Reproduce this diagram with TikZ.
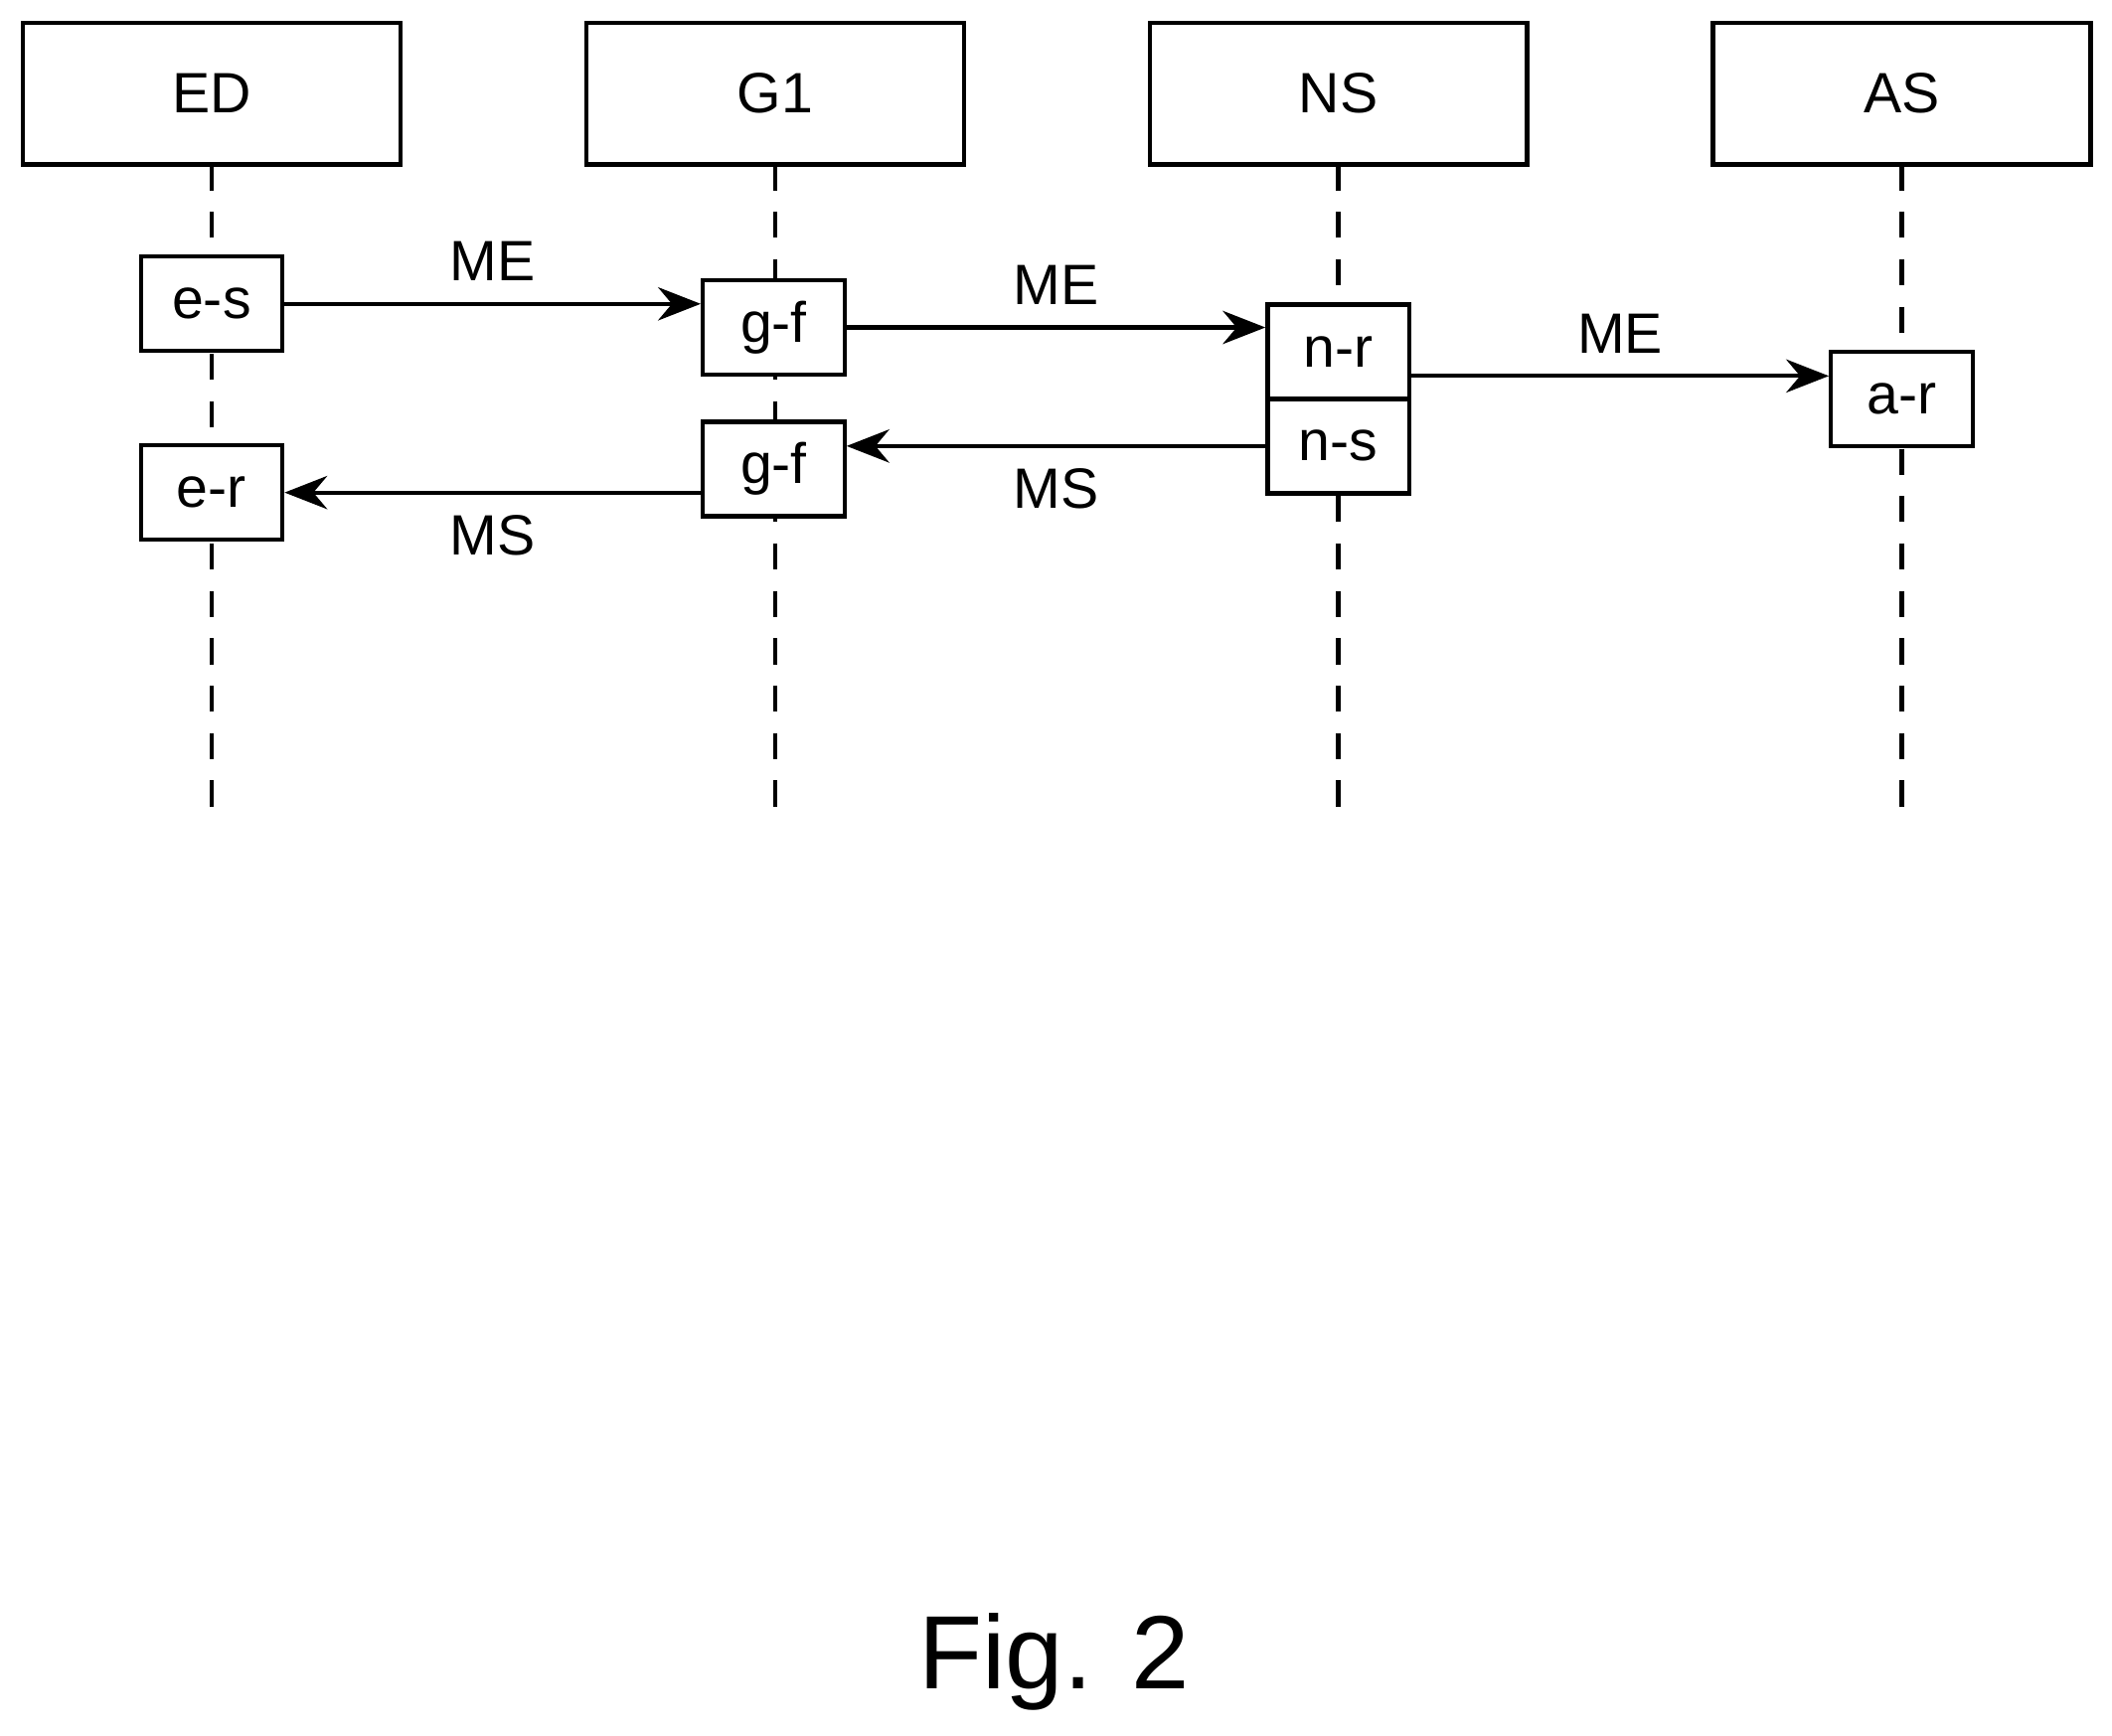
\documentclass[tikz,border=0pt]{standalone}
\usepackage{fontspec}
\setmainfont{Liberation Sans}
\usetikzlibrary{arrows.meta,positioning}
\begin{document}
\begin{tikzpicture}[x=0.01cm,y=-0.01cm,>={Stealth[length=9pt,width=7pt]},line width=0.9pt]
	\tikzset{party/.style={draw, rectangle, minimum width=2.8cm, minimum height=1.05cm, font=\fontsize{12}{14}\selectfont, fill=white}}
	\tikzset{stage/.style={draw, rectangle, minimum width=1.05cm, minimum height=0.7cm, font=\fontsize{12}{14}\selectfont, fill=white}}
	\tikzset{lifeline/.style={dash pattern=on 5.5pt off 4.5pt}}
	\useasboundingbox (0,0) rectangle (1567,1288);
	
	% lifelines
	\foreach \n/\x in {ed/157,g/575,ns/993,as/1411}{
		\coordinate (\n-end) at (\x,605);
		\draw [lifeline] (\x,122) -- (\n-end);
	}
	
	\node [party] (ED) at (157,69.5) {ED};
	\node [party] (G1) at (575,69.5) {G1};
	\node [party] (NS) at (993,69.5) {NS};
	\node [party] (AS) at (1411,69.5) {AS};
	
	\node [stage] (es) at (157,225.5) {e-s};
	\node [stage] (er) at (157,365.5) {e-r};
	\node [stage] (gf1) at (574,243) {g-f};
	\node [stage] (gf2) at (574,348) {g-f};
	\node [stage] (nr) at (993,261) {n-r};
	\node [stage] (ns) at (993,331) {n-s};
	\node [stage] (ar) at (1411,296) {a-r};
	
	\draw [->] (es.east) -- node[above=1pt, font=\fontsize{12}{14}\selectfont]{ME} (es.east -| gf1.west);
	\draw [->] (gf1.east) -- node[above=1pt, font=\fontsize{12}{14}\selectfont]{ME} (gf1.east -| nr.west);
	\draw [->] (nr.east) ++(0,18) coordinate (c1) -- node[above=1pt, font=\fontsize{12}{14}\selectfont]{ME} (c1 -| ar.west);
	\draw [<-] (gf2.east) ++(0,-17) coordinate (c2) -- node[below=1pt, font=\fontsize{12}{14}\selectfont]{MS} (c2 -| ns.west);
	\draw [<-] (er.east) -- node[below=1pt, font=\fontsize{12}{14}\selectfont]{MS} (er.east -| gf2.west);
	
	\node [font=\fontsize{22}{26}\selectfont] (fig) at (782,1233) {Fig. 2};
\end{tikzpicture}
\end{document}
